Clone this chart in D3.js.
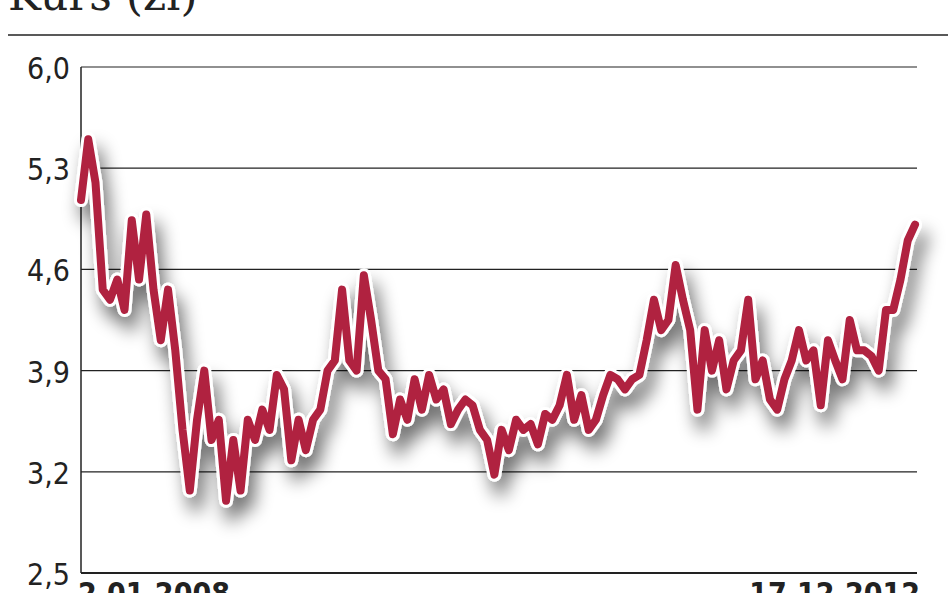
<!DOCTYPE html>
<html>
<head>
<meta charset="utf-8">
<script src="https://cdn.jsdelivr.net/npm/d3@7"></script>
<style>
  body { margin: 0; background: #fff; }
</style>
</head>
<body>
<div id="chart"></div>
<script>
var yTicks = [2.5, 3.2, 3.9, 4.6, 5.3, 6.0];
var dateLabels = ["2.01.2008", "17.12.2012"];
var kurs = [5.08, 5.5, 5.2, 4.46, 4.39, 4.53, 4.32, 4.94, 4.53, 4.98, 4.46, 4.11, 4.46, 4.04,
  3.49, 3.07, 3.56, 3.9, 3.42, 3.56, 3.0, 3.42, 3.07, 3.56, 3.42, 3.63, 3.49, 3.87, 3.77,
  3.28, 3.56, 3.35, 3.56, 3.63, 3.9, 3.97, 4.46, 3.97, 3.9, 4.56, 4.25, 3.9, 3.84, 3.46,
  3.7, 3.56, 3.84, 3.63, 3.87, 3.7, 3.77, 3.53, 3.63, 3.7, 3.66, 3.49, 3.42, 3.18, 3.49,
  3.35, 3.56, 3.49, 3.53, 3.39, 3.6, 3.56, 3.66, 3.87, 3.56, 3.73, 3.49, 3.56, 3.73, 3.87,
  3.84, 3.77, 3.84, 3.87, 4.11, 4.39, 4.18, 4.25, 4.63, 4.39, 4.18, 3.63, 4.18, 3.9, 4.11,
  3.77, 3.97, 4.04, 4.39, 3.84, 3.97, 3.7, 3.63, 3.84, 3.97, 4.18, 3.97, 4.04, 3.66, 4.11,
  3.97, 3.84, 4.25, 4.04, 4.04, 4.0, 3.9, 4.32, 4.32, 4.53, 4.8, 4.91];

var width = 948, height = 593;
var mLeft = 81, mRight = 917, mTop = 67, mBottom = 573;

var svg = d3.select("#chart").append("svg")
    .attr("width", width)
    .attr("height", height);

var defs = svg.append("defs");
var f = defs.append("filter").attr("id", "shadow")
    .attr("x", "-10%").attr("y", "-10%").attr("width", "130%").attr("height", "140%");
f.append("feGaussianBlur").attr("in", "SourceAlpha").attr("stdDeviation", 9).attr("result", "b");
f.append("feOffset").attr("in", "b").attr("dx", 6).attr("dy", 14).attr("result", "o");
f.append("feComponentTransfer").attr("in", "o").attr("result", "s")
  .append("feFuncA").attr("type", "linear").attr("slope", 0.55);
var m = f.append("feMerge");
m.append("feMergeNode").attr("in", "s");
m.append("feMergeNode").attr("in", "SourceGraphic");

var x = d3.scaleLinear().domain([0, kurs.length - 1]).range([mLeft, mRight - 2]);
var y = d3.scaleLinear().domain([2.5, 6.0]).range([mBottom, mTop]);

// title (cut by the top edge)
svg.append("text")
    .attr("x", 8).attr("y", 10)
    .style("font-family", "'DejaVu Serif', serif")
    .style("font-size", "44px")
    .style("fill", "#222")
    .text("Kurs (zł)");

svg.append("line")
    .attr("x1", 8).attr("x2", width).attr("y1", 35).attr("y2", 35)
    .attr("stroke", "#222").attr("stroke-width", 1.5);

// grid
svg.selectAll(".grid")
    .data(yTicks)
    .enter().append("line")
    .attr("x1", mLeft).attr("x2", mRight)
    .attr("y1", d => y(d)).attr("y2", d => y(d))
    .attr("stroke", "#222").attr("stroke-width", d => d === 2.5 ? 2 : 1.2);

svg.append("line")
    .attr("x1", mLeft).attr("x2", mLeft).attr("y1", mTop).attr("y2", mBottom)
    .attr("stroke", "#222").attr("stroke-width", 1.5);

svg.selectAll(".ylab")
    .data(yTicks)
    .enter().append("text")
    .attr("x", 70).attr("y", d => y(d) + 12)
    .attr("text-anchor", "end")
    .style("font-family", "'DejaVu Sans Condensed', 'Liberation Sans Narrow', sans-serif")
    .style("font-size", "30px")
    .style("fill", "#222")
    .text(d => d.toFixed(1).replace(".", ","));

// date labels (cut by the bottom edge)
svg.selectAll(".xlab")
    .data(dateLabels)
    .enter().append("text")
    .attr("x", (d, i) => i === 0 ? 78 : 920)
    .attr("y", 604)
    .attr("text-anchor", (d, i) => i === 0 ? "start" : "end")
    .style("font-family", "'DejaVu Sans Condensed', sans-serif")
    .style("font-weight", "bold")
    .style("font-size", "30px")
    .style("fill", "#222")
    .text(d => d);

var line = d3.line()
    .x((d, i) => x(i))
    .y(d => y(d));

var g = svg.append("g").attr("filter", "url(#shadow)");
g.append("path")
    .datum(kurs)
    .attr("d", line)
    .attr("fill", "none")
    .attr("stroke", "#fff")
    .attr("stroke-width", 14)
    .attr("stroke-linejoin", "round")
    .attr("stroke-linecap", "round");
g.append("path")
    .datum(kurs)
    .attr("d", line)
    .attr("fill", "none")
    .attr("stroke", "#b0203f")
    .attr("stroke-width", 8)
    .attr("stroke-linejoin", "round")
    .attr("stroke-linecap", "round");
</script>
</body>
</html>
